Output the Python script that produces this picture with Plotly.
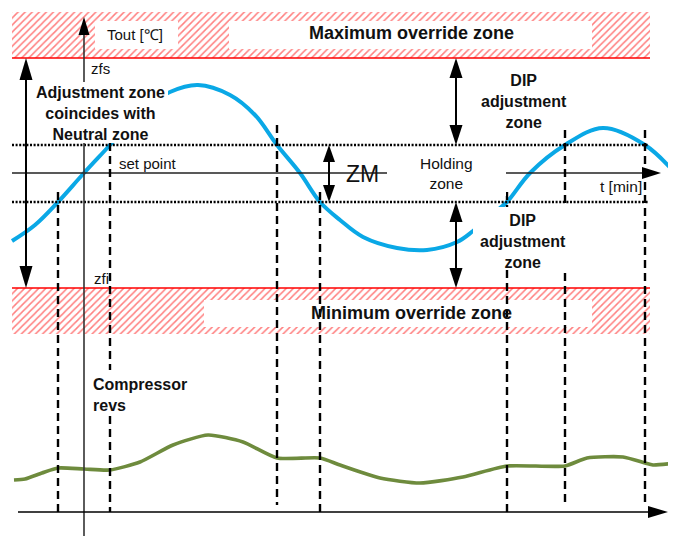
import plotly.graph_objects as go

# ---------------- data (diagram units: x = time axis, y = screen-down scale) -------------
tout_t = [12, 35, 58, 84, 110, 140, 170, 198, 230, 255, 277, 300, 320, 340, 363, 397, 427, 457, 473, 495, 507, 530, 565, 603, 645, 676]
tout_v = [241, 225, 202, 173, 145, 112, 92, 85, 95, 115, 145, 173, 202, 220, 237, 248, 250, 242, 231, 212, 202, 173, 145, 128, 145, 174]

revs_t = [14, 25, 42, 58, 84, 110, 140, 173, 208, 243, 277, 320, 340, 380, 420, 463, 507, 565, 587, 623, 645, 653, 676]
revs_v = [480, 479, 473, 468, 469, 470, 462, 445, 435, 442, 458, 458, 465, 478, 483, 477, 466, 466, 458, 457, 463, 465, 463]

switch_t = [58, 110, 277, 320, 507, 565, 645]
switch_top = [192, 143, 125, 192, 192, 130, 130]
switch_bottom = [512, 512, 505, 512, 512, 505, 505]

zfs_level = 58
neutral_high = 145
set_point = 173
neutral_low = 202
zfi_level = 288
t_start, t_end = 12, 650

BLUE = "#0AA8E6"
GREEN = "#6E8B3D"
FONT = "Liberation Sans, Arial, sans-serif"

fig = go.Figure()

# hatched override zones
def hatch(x0, x1, y0, y1):
    fig.add_trace(go.Scatter(
        x=[x0, x1, x1, x0, x0], y=[y0, y0, y1, y1, y0], mode="lines", fill="toself",
        fillcolor="white", line=dict(width=0, color="rgba(0,0,0,0)"),
        fillpattern=dict(shape="/", fgcolor="#FF0000", bgcolor="white", size=5, solidity=0.3),
        hoverinfo="skip"))

hatch(t_start, t_end, 12, zfs_level)
hatch(t_start, t_end, zfi_level, 334)

fig.add_trace(go.Scatter(x=tout_t, y=tout_v, mode="lines",
                         line=dict(color=BLUE, width=4, shape="spline", smoothing=1.0),
                         hoverinfo="skip"))
fig.add_trace(go.Scatter(x=revs_t, y=revs_v, mode="lines",
                         line=dict(color=GREEN, width=3.6, shape="spline", smoothing=0.6),
                         hoverinfo="skip"))

shapes = []
def rect(x0, y0, x1, y1):
    shapes.append(dict(type="rect", x0=x0, x1=x1, y0=y0, y1=y1, xref="x", yref="y",
                       fillcolor="white", line=dict(width=0), layer="above"))
def line(x0, y0, x1, y1, color="black", width=1.5, dash="solid"):
    shapes.append(dict(type="line", x0=x0, x1=x1, y0=y0, y1=y1, xref="x", yref="y",
                       line=dict(color=color, width=width, dash=dash), layer="above"))
def head(tx, ty, dx, dy, L, W, color="black"):
    bx, by = tx - dx * L, ty - dy * L
    px, py = -dy, dx
    path = (f"M {tx},{ty} L {bx + px * W / 2},{by + py * W / 2} "
            f"L {bx - px * W / 2},{by - py * W / 2} Z")
    shapes.append(dict(type="path", path=path, xref="x", yref="y", fillcolor=color,
                       line=dict(width=0), layer="above"))

# white label boxes inside hatch
rect(95, 21, 178, 49)
rect(229, 21, 592, 49)
rect(204, 300, 592, 327)

# red limit lines
line(t_start, zfs_level, t_end, zfs_level, color="#FF0000", width=1.6)
line(t_start, zfi_level, t_end, zfi_level, color="#FF0000", width=1.6)
# neutral zone dotted limits
line(t_start, neutral_high, 648, neutral_high, width=2.5, dash="2px,1.6px")
line(t_start, neutral_low, 648, neutral_low, width=2.5, dash="2px,1.6px")
# set point / time axis
line(t_start, set_point, 650, set_point, color="#222", width=1.5)
# Tout axis
line(84, 30, 84, 536, color="#333", width=1.6)
# bottom time axis
line(18, 512, 655, 512, color="black", width=1.5)
# switching times
for xt, yt, yb in zip(switch_t, switch_top, switch_bottom):
    line(xt, yt, xt, yb, width=2.4, dash="8px,5px")

# white text boxes covering lines / curve
rect(387, 150, 506, 196)   # Holding zone
rect(33, 82, 168, 143)     # Adjustment zone text
rect(473, 207, 575, 270)   # lower DIP text
rect(90, 370, 190, 416)    # Compressor revs

# arrows
line(26, 70, 26, 276, width=2)
head(26, zfs_level, 0, -1, 22, 13)
head(26, zfi_level, 0, 1, 22, 13)
head(84, 17, 0, -1, 18, 11)
line(329, 155, 329, 192, width=2)
head(329, neutral_high, 0, -1, 17, 12)
head(329, neutral_low, 0, 1, 17, 12)
line(456, 70, 456, 133, width=2)
head(456, zfs_level, 0, -1, 20, 13)
head(456, neutral_high, 0, 1, 20, 13)
line(456, 214, 456, 276, width=2)
head(456, neutral_low, 0, -1, 20, 13)
head(456, zfi_level, 0, 1, 20, 13)
head(661, set_point, 1, 0, 19, 12)
head(668, 512, 1, 0, 20, 12)

fig.update_layout(shapes=shapes)

def text(x, y, s, size=15, bold=False, xanchor="center", color="#111"):
    fig.add_annotation(x=x, y=y, xref="x", yref="y", text=(f"<b>{s}</b>" if bold else s),
                       showarrow=False, xanchor=xanchor, yanchor="middle", align="center",
                       font=dict(family=FONT, size=size, color=color))

text(135, 34, "Tout [℃]", size=15)
text(411, 33, "Maximum override zone", size=18, bold=True)
text(89, 68, "zfs", size=15, xanchor="left")
text(92, 278, "zfi", size=15, xanchor="left")
text(100, 113, "Adjustment zone<br>coincides with<br>Neutral zone", size=16, bold=True)
text(117, 163, "set point", size=15, xanchor="left")
text(362, 174, "ZM", size=23)
text(446, 173, "Holding<br>zone", size=15.5)
text(524, 101, "DIP<br>adjustment<br>zone", size=16, bold=True)
text(523, 241, "DIP<br>adjustment<br>zone", size=16, bold=True)
text(621, 186, "t [min]", size=15.5)
text(411, 313, "Minimum override zone", size=18, bold=True)
fig.add_annotation(x=91, y=395, xref="x", yref="y", text="<b>Compressor<br>revs</b>",
                   showarrow=False, xanchor="left", yanchor="middle", align="left",
                   font=dict(family=FONT, size=16, color="#111"))

# page body has an 8px margin: figure is 668x528 and its axes map to window pixels 8..676 / 8..536
fig.update_xaxes(range=[8, 676], visible=False, fixedrange=True)
fig.update_yaxes(range=[536, 8], visible=False, fixedrange=True)
fig.update_layout(width=668, height=528, margin=dict(l=0, r=0, t=0, b=0),
                  paper_bgcolor="white", plot_bgcolor="white", showlegend=False)

fig.write_html("out.html")
